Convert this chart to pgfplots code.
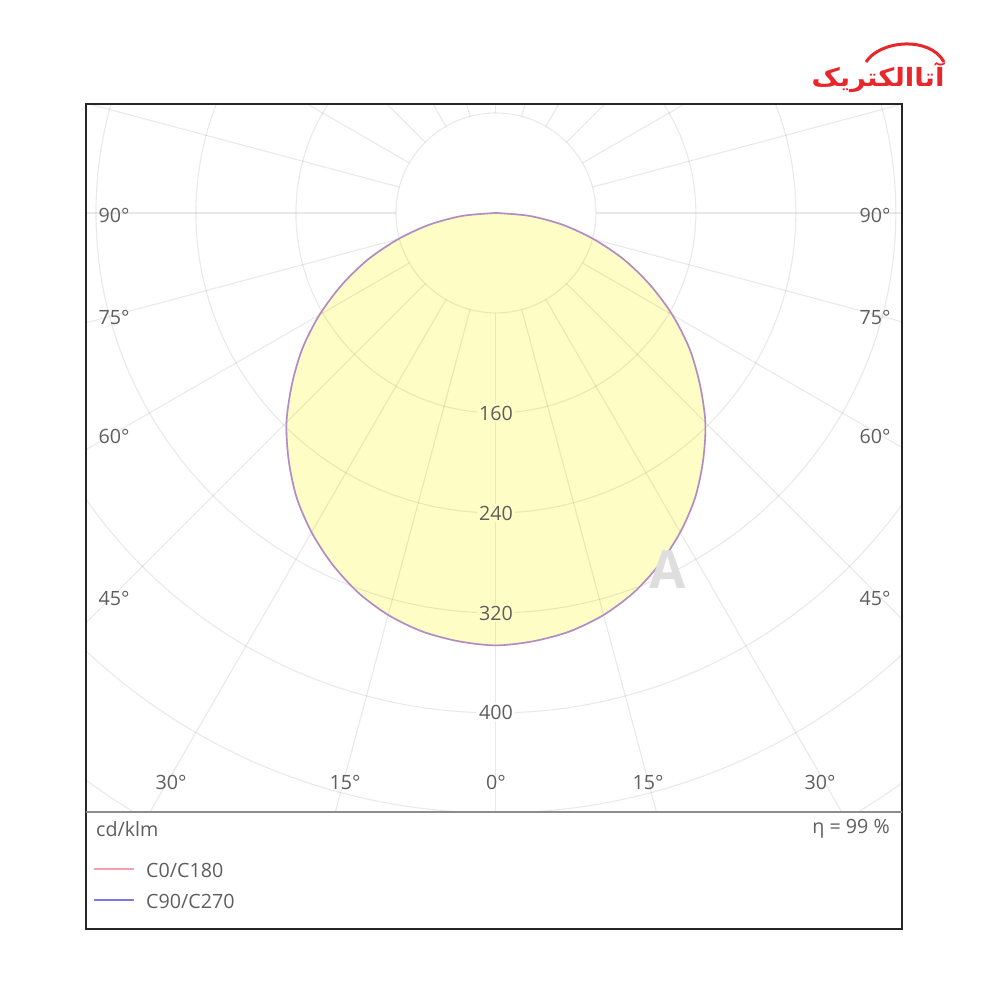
\documentclass[border=0pt]{standalone}
\usepackage{pgfplots}
\pgfplotsset{compat=1.18}
\usepackage{pgfplotstable}
\usepackage{fontspec}
\setmainfont{Open Sans}
\newfontfamily\arabicfont[Script=Arabic]{DejaVu Sans}
\TeXXeTstate=1
\definecolor{fillY}{HTML}{FFFDC6}
\definecolor{txt}{HTML}{5E5E5E}
\definecolor{pinkC}{HTML}{F2A3AE}
\definecolor{blueC}{HTML}{7A7ADB}
\definecolor{logored}{HTML}{E8262C}
\tikzset{gridc/.style={draw=black, draw opacity=0.085, line width=0.022cm}}

% polar angle a (deg, 270 = straight down), intensity r (cd/klm)
\pgfplotstableread{
a r
180 0
185 27
190 54
195 81
200 109
205 136
210 163
215 189
220 213
225 237
230 258
235 278
240 295
245 310
250 323
255 333
260 340
265 344
270 346
275 344
280 340
285 333
290 323
295 310
300 295
305 278
310 258
315 237
320 213
325 189
330 163
335 136
340 109
345 81
350 54
355 27
360 0
}\curve

\begin{document}
\begin{tikzpicture}
\begin{axis}[at={(1.72cm,-16.24cm)}, anchor=south west, scale only axis,
  width=16.32cm, height=14.16cm,
  xmin=-328, xmax=324.8, ymin=-479.2, ymax=87.2,
  hide axis, clip=true]
\addplot[fill=fillY, draw=none, smooth, data cs=polar] table[x=a,y=r]{\curve};
\pgfplotsinvokeforeach{80,160,...,560}{\draw[gridc] (axis cs:0,0) circle[radius=#1];}
\pgfplotsinvokeforeach{0,15,...,345}{\draw[gridc] (axis cs:{80*cos(#1)},{80*sin(#1)}) -- (axis cs:{720*cos(#1)},{720*sin(#1)});}
\addplot[pinkC, line width=0.9pt, smooth, data cs=polar] table[x=a,y=r]{\curve};
\addplot[blueC, opacity=0.55, line width=0.9pt, smooth, data cs=polar] table[x=a,y=r]{\curve};
\end{axis}

\begin{scope}[x=0.02cm, y=-0.02cm]
\path (0,0) rectangle (1000,1000);
\draw[line width=0.05cm, black!85] (86,104) rectangle (902,929);
\draw[line width=0.03cm, black!45] (86,812) -- (902,812);

\begin{scope}[font=\fontsize{11.2}{13}\selectfont, text=txt]
\node at (114,215) {90°};
\node at (114,317) {75°};
\node at (114,436) {60°};
\node at (114,598) {45°};
\node at (171,782) {30°};
\node at (345,782) {15°};
\node at (496,782) {0°};
\node at (648,782) {15°};
\node at (820,782) {30°};
\node at (875,598) {45°};
\node at (875,436) {60°};
\node at (875,317) {75°};
\node at (875,215) {90°};
\node[fill=fillY, inner sep=1pt] at (496,413) {160};
\node[fill=fillY, inner sep=1pt] at (496,513) {240};
\node[fill=fillY, inner sep=1pt] at (496,613) {320};
\node[fill=white, inner sep=1pt] at (496,712) {400};
\node[anchor=west] at (90,829) {cd/klm};
\node[anchor=east] at (896,829) {η = 99 \%};
\draw[pinkC, line width=0.03cm] (94,869) -- (134,869);
\draw[blueC, line width=0.03cm] (94,900) -- (134,900);
\node[anchor=west] at (140,870) {C0/C180};
\node[anchor=west] at (140,901) {C90/C270};
\end{scope}

\node[text=black!13, font=\fontsize{30}{30}\selectfont\bfseries] at (668,570) {A};

% logo
\node[text=logored] at (878,78) {\resizebox{2.66cm}{0.48cm}{\arabicfont\bfseries\beginR آتاالکتریک\endR}};
\draw[logored, line width=0.06cm] (866,62) .. controls (880,40) and (930,36) .. (944,62);
\end{scope}
\end{tikzpicture}
\end{document}
